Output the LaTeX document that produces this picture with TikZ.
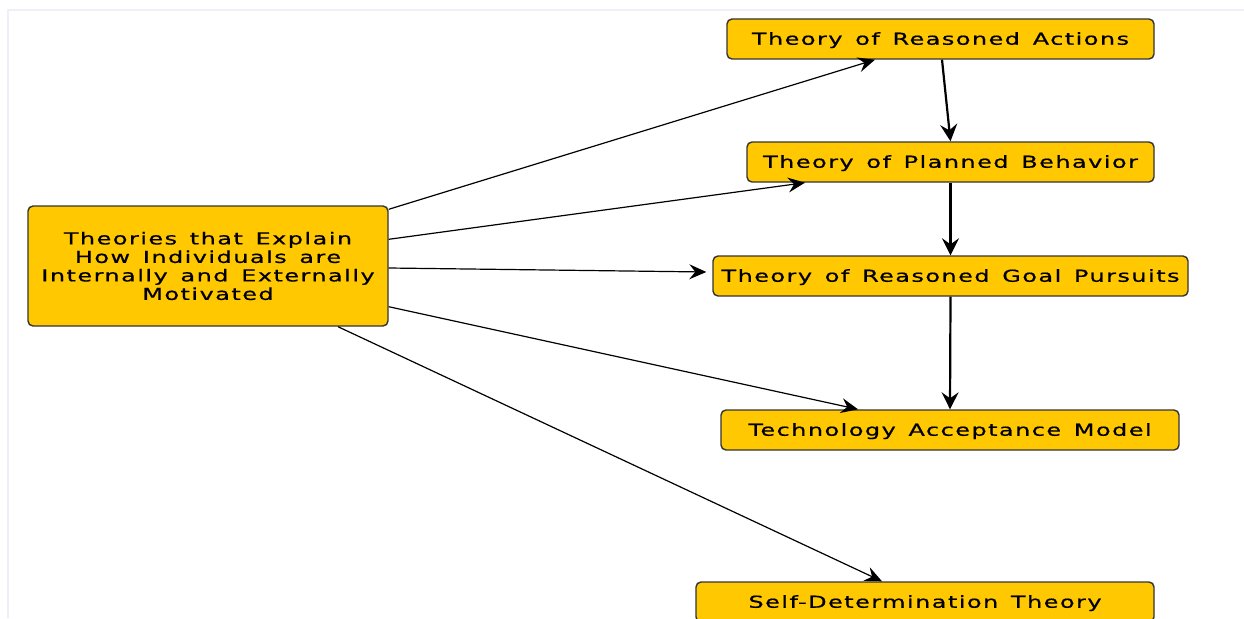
\documentclass[tikz,border=0pt]{standalone}
\usepackage{fontspec}
\setmainfont{DejaVu Sans}[FakeStretch=1.45,LetterSpace=9,WordSpace=1.4,FakeBold=0.7]
\usetikzlibrary{arrows.meta,calc}
\definecolor{boxfill}{HTML}{FFC800}
\definecolor{boxline}{HTML}{333333}
\definecolor{framecol}{HTML}{EEF0F8}
\begin{document}
\begin{tikzpicture}[x=1pt,y=-1pt,
  theory/.style={draw=boxline,line width=1.4pt,fill=boxfill,rounded corners=5pt,
    inner sep=0pt,anchor=center,font=\fontsize{16.5}{18.5}\selectfont,text=black},
  single/.style={theory,minimum height=40pt,text height=12.5pt,text depth=1pt},
  link/.style={line width=1.2pt,-{Stealth[length=17pt,width=15pt,inset=6pt]}},
  flow/.style={line width=2.2pt,-{Stealth[length=17pt,width=17pt,inset=6pt]}}]
\useasboundingbox (0,0) rectangle (1244,618);
% faint page frame
\draw[framecol,line width=2pt] (8,618) -- (8,10) -- (1244,10);

\node[theory,minimum width=360pt,minimum height=120pt,align=center] (src) at (208,266)
  {Theories that Explain\\How Individuals are\\Internally and Externally\\Motivated};
\node[single,minimum width=427pt] (tra) at (940.5,39) {Theory of Reasoned Actions};
\node[single,minimum width=407pt] (tpb) at (950.5,162) {Theory of Planned Behavior};
\node[single,minimum width=475pt] (trgp) at (950.5,276) {Theory of Reasoned Goal Pursuits};
\node[single,minimum width=458pt] (tam) at (950,430) {Technology Acceptance Model};
\node[single,minimum width=458pt] (sdt) at (925,602) {Self-Determination Theory};

% links from the central node
\draw[link] ($(src.north east)+(0,4)$) -- ($(tra.south)+(-65.5,0)$);
\draw[link] ($(src.north east)+(0,34)$) -- ($(tpb.south)+(-145.5,0)$);
\draw[link] ($(src.east)+(0,2)$) -- ($(trgp.west)+(-6,-4)$);
\draw[link] ($(src.south east)+(0,-20)$) -- ($(tam.north)+(-92,0)$);
\draw[link] ($(src.south)+(130,0)$) -- ($(sdt.north)+(-43,0)$);

% chain between theories
\draw[flow] ($(tra.south)+(1.5,0)$) -- (tpb.north);
\draw[flow] (tpb.south) -- (trgp.north);
\draw[flow] (trgp.south) -- (tam.north);
\end{tikzpicture}
\end{document}
